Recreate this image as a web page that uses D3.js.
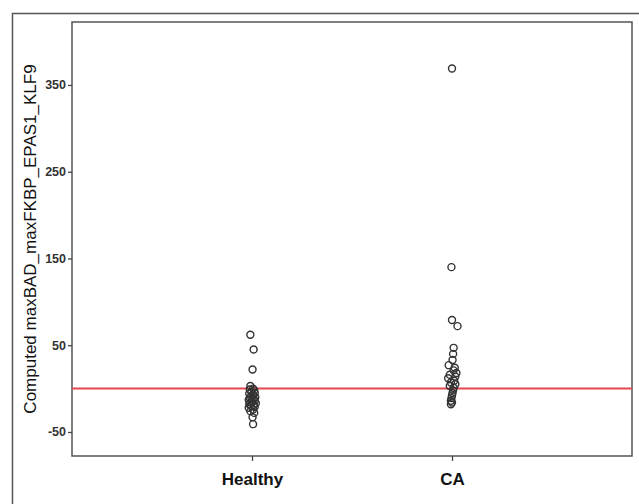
<!DOCTYPE html>
<html>
<head>
<meta charset="utf-8">
<script src="https://cdn.jsdelivr.net/npm/d3@7"></script>
<style>
  body { margin: 0; background: #fff; }
  text { font-family: "Liberation Sans", Arial, sans-serif; }
</style>
</head>
<body>
<div id="chart-area"></div>
<script>
// SVG Size
let width = 639,
	height = 504;

// groups on the x axis
let groups = ["Healthy", "CA"];

// computed values
let healthyValues = [62, 45, 22, 3, 0, -1, -2, -4, -5, -6, -8, -9, -10, -11, -12, -13,
	-14, -15, -16, -17, -18, -19, -20, -21, -22, -24, -26, -28, -33, -41];
let healthyJitter = [-0.3, 0.3, 0.1, -0.3, 0.2, -0.4, 0.4, -0.1, 0.5, -0.5, 0.2, -0.2, 0.6, -0.4,
	0.3, -0.6, 0.5, 0.0, -0.3, 0.7, -0.5, 0.3, -0.2, 0.5, -0.6, 0.2, -0.3, 0.4, 0.1, 0.2];

let caValues = [369, 140, 79, 72, 47, 40, 33, 27, 24, 21, 18, 16, 14, 12, 9, 7, 5, 3, 1,
	-2, -5, -8, -11, -14, -16, -18];
let caJitter = [0.0, -0.1, 0.0, 1.0, 0.3, 0.2, 0.1, -0.6, 0.5, 0.3, 0.8, -0.4, 0.6, -0.7, 0.4,
	-0.2, 0.6, -0.4, 0.3, 0.2, 0.1, 0.0, -0.1, -0.2, 0.0, -0.2];

// y axis
let yTicks = [-50, 50, 150, 250, 350];
let yDomain = [-77.7, 422.6];
let refLine = 0;
let yTitle = "Computed maxBAD_maxFKBP_EPAS1_KLF9";

let plot = { left: 72, right: 632, top: 22, bottom: 456 };

drawChart();

function drawChart() {
	let svg = d3.select("#chart-area")
		.append("svg")
		.attr("width", width)
		.attr("height", height);

	// outer frame (only top and left edges show)
	svg.append("path")
		.attr("d", "M12.5," + height + " V13.5 H" + width)
		.attr("fill", "none")
		.attr("stroke", "#555")
		.attr("stroke-width", 1.5);

	let x = d3.scalePoint()
		.domain(groups)
		.range([plot.left, plot.right])
		.padding(0.9);

	let y = d3.scaleLinear()
		.domain(yDomain)
		.range([plot.bottom, plot.top]);

	let jitter = d3.scaleLinear().domain([-1, 1]).range([-5.5, 5.5]);

	// plot frame
	svg.append("rect")
		.attr("x", plot.left)
		.attr("y", plot.top)
		.attr("width", plot.right - plot.left)
		.attr("height", plot.bottom - plot.top)
		.attr("fill", "none")
		.attr("stroke", "#555")
		.attr("stroke-width", 1.5);

	let yAxis = d3.axisLeft(y)
		.tickValues(yTicks)
		.tickFormat(d => String(d))
		.tickSize(4)
		.tickPadding(2);

	let gy = svg.append("g")
		.attr("transform", "translate(" + plot.left + ",0)")
		.call(yAxis);
	gy.select(".domain").remove();
	gy.selectAll(".tick line").attr("stroke", "#444").attr("stroke-width", 1.3);
	gy.selectAll(".tick text")
		.attr("fill", "#333")
		.style("font-size", "12.5px")
		.style("font-weight", "bold");

	let xAxis = d3.axisBottom(x)
		.tickSize(5)
		.tickPadding(12);

	let gx = svg.append("g")
		.attr("transform", "translate(0," + plot.bottom + ")")
		.call(xAxis);
	gx.select(".domain").remove();
	gx.selectAll(".tick line").attr("stroke", "#444").attr("stroke-width", 1.3);
	gx.selectAll(".tick text")
		.attr("fill", "#111")
		.style("font-size", "17px")
		.style("font-weight", "bold");

	// y title
	svg.append("text")
		.attr("transform", "translate(36," + ((plot.top + plot.bottom) / 2) + ") rotate(-90)")
		.attr("text-anchor", "middle")
		.attr("fill", "#111")
		.style("font-size", "17px")
		.text(yTitle);

	// reference line
	svg.append("line")
		.attr("x1", plot.left)
		.attr("x2", plot.right)
		.attr("y1", y(refLine))
		.attr("y2", y(refLine))
		.attr("stroke", "#e5464f")
		.attr("stroke-width", 2);

	let points = [];
	healthyValues.forEach((v, i) => points.push({ group: "Healthy", value: v, j: healthyJitter[i] }));
	caValues.forEach((v, i) => points.push({ group: "CA", value: v, j: caJitter[i] }));

	svg.selectAll("circle")
		.data(points)
		.enter()
		.append("circle")
		.attr("cx", d => x(d.group) + jitter(d.j))
		.attr("cy", d => y(d.value))
		.attr("r", 3.5)
		.attr("fill", "none")
		.attr("stroke", "#333")
		.attr("stroke-width", 1.4);
}
</script>
</body>
</html>
